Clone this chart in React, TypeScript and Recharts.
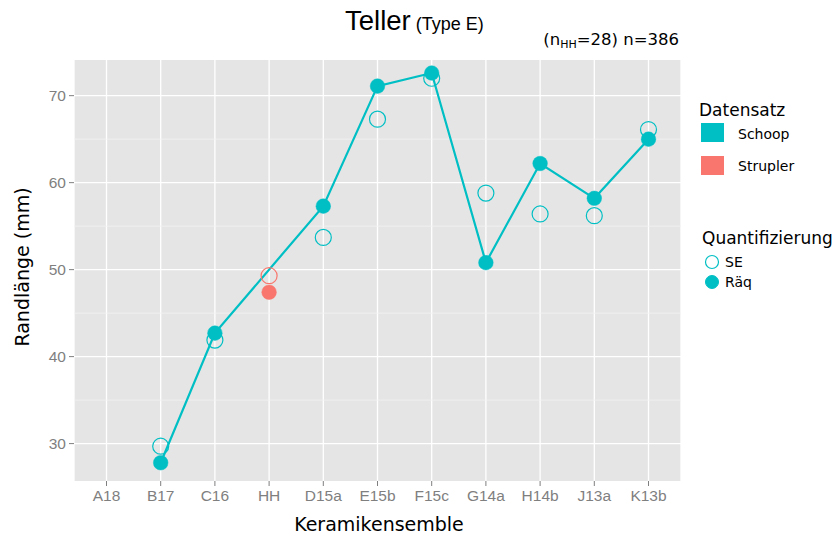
import React from "react";
import { ComposedChart, Line, XAxis, YAxis, CartesianGrid, ReferenceLine } from "recharts";

const categories = ["A18", "B17", "C16", "HH", "D15a", "E15b", "F15c", "G14a", "H14b", "J13a", "K13b"];
const schoopSE = [null, 29.7, 41.9, null, 53.7, 67.3, 72.0, 58.8, 56.4, 56.2, 66.1];
const schoopRaq = [null, 27.8, 42.7, null, 57.3, 71.1, 72.6, 50.8, 62.2, 58.2, 65.0];
const struplerSE = [null, null, null, 49.3, null, null, null, null, null, null, null];
const struplerRaq = [null, null, null, 47.4, null, null, null, null, null, null, null];
const yTicks = [30, 40, 50, 60, 70];
const minorTicks = [35, 45, 55, 65];

const data = categories.map((c, i) => ({
  cat: c,
  schoopSE: schoopSE[i],
  schoopRaq: schoopRaq[i],
  struplerSE: struplerSE[i],
  struplerRaq: struplerRaq[i],
}));

const TEAL = "#00BFC4";
const RED = "#F8766D";
const tickFont = { fontFamily: "Liberation Sans, Arial, sans-serif", fontSize: 15.5, fill: "#7F7F7F" };
const labelFont = "DejaVu Sans, sans-serif";

const App: React.FC = () => {
  return (
    <div style={{ position: "absolute", left: 0, top: 0, width: 837, height: 537, background: "#fff" }}>
      <ComposedChart width={837} height={537} data={data} margin={{ top: 60, right: 156, bottom: 0, left: 34 }}>
        <CartesianGrid fill="#E5E5E5" stroke="#FFFFFF" strokeWidth={1.3} horizontalValues={yTicks} />
        {minorTicks.map((t) => (
          <ReferenceLine key={t} y={t} stroke="#F2F2F2" strokeWidth={0.8} />
        ))}
        <XAxis
          dataKey="cat"
          padding={{ left: 32.5, right: 32.5 }}
          axisLine={false}
          tickSize={5}
          tickMargin={4}
          tickLine={{ stroke: "#7F7F7F" }}
          tick={tickFont}
          height={56}
          interval={0}
        />
        <YAxis
          domain={[25.7, 74.1]}
          ticks={yTicks}
          allowDataOverflow
          axisLine={false}
          tickSize={5}
          tickMargin={3}
          tickLine={{ stroke: "#7F7F7F" }}
          tick={tickFont}
          width={40}
        />
        <Line
          dataKey="schoopSE"
          stroke="none"
          isAnimationActive={false}
          activeDot={false}
          dot={{ r: 8, fill: "none", stroke: TEAL, strokeWidth: 1.2 }}
        />
        <Line
          dataKey="struplerSE"
          stroke="none"
          isAnimationActive={false}
          activeDot={false}
          dot={{ r: 8, fill: "none", stroke: RED, strokeWidth: 1.2 }}
        />
        <Line
          dataKey="schoopRaq"
          stroke={TEAL}
          strokeWidth={2.2}
          connectNulls
          isAnimationActive={false}
          activeDot={false}
          dot={false}
        />
        <Line
          dataKey="schoopRaq"
          stroke="none"
          isAnimationActive={false}
          activeDot={false}
          dot={{ r: 7.3, fill: TEAL, stroke: TEAL, strokeWidth: 0.5 }}
        />
        <Line
          dataKey="struplerRaq"
          stroke="none"
          isAnimationActive={false}
          activeDot={false}
          dot={{ r: 7.3, fill: RED, stroke: RED, strokeWidth: 0.5 }}
        />
      </ComposedChart>
      <svg width={837} height={537} style={{ position: "absolute", left: 0, top: 0, pointerEvents: "none" }}>
        <text x={345} y={30} fontFamily="Liberation Sans, Arial, sans-serif" fontSize={27.5} fill="#000">
          Teller
          <tspan fontSize={18} dx={5}>(Type E)</tspan>
        </text>
        <text x={679} y={45} textAnchor="end" fontFamily={labelFont} fontSize={16.5} fill="#000">
          (n<tspan fontSize={11} dy={3}>HH</tspan>
          <tspan dy={-3}>=28) n=386</tspan>
        </text>
        <text
          x={0}
          y={0}
          transform="translate(29,267) rotate(-90)"
          textAnchor="middle"
          fontFamily={labelFont}
          fontSize={19}
          fill="#000"
        >
          Randlänge (mm)
        </text>
        <text x={379} y={531} textAnchor="middle" fontFamily={labelFont} fontSize={19} fill="#000">
          Keramikensemble
        </text>
        <text x={699} y={116} fontFamily={labelFont} fontSize={17} fill="#000">
          Datensatz
        </text>
        <rect x={701} y={123} width={23} height={19} fill={TEAL} />
        <text x={738} y={139} fontFamily={labelFont} fontSize={14} fill="#000">
          Schoop
        </text>
        <rect x={701} y={156} width={23} height={19} fill={RED} />
        <text x={738} y={171} fontFamily={labelFont} fontSize={14} fill="#000">
          Strupler
        </text>
        <text x={702} y={244} fontFamily={labelFont} fontSize={17} fill="#000">
          Quantifizierung
        </text>
        <circle cx={712} cy={262} r={6.5} fill="none" stroke={TEAL} strokeWidth={1.2} />
        <text x={725} y={267} fontFamily={labelFont} fontSize={14} fill="#000">
          SE
        </text>
        <circle cx={712} cy={282} r={6.5} fill={TEAL} stroke={TEAL} />
        <text x={725} y={287} fontFamily={labelFont} fontSize={14} fill="#000">
          Räq
        </text>
      </svg>
    </div>
  );
};

export default App;
